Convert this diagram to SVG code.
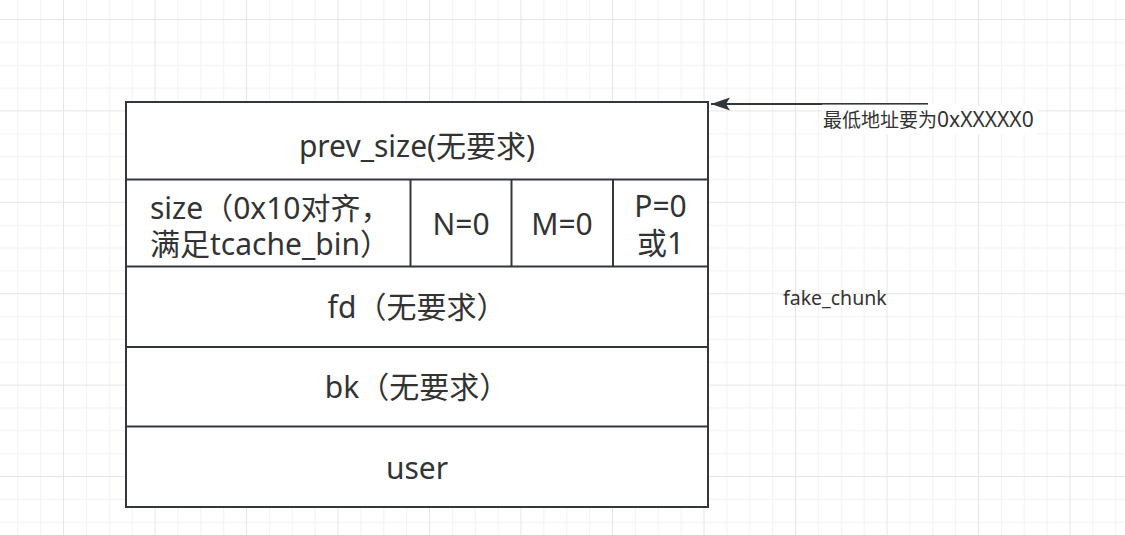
<svg xmlns="http://www.w3.org/2000/svg" width="1125" height="535" viewBox="0 0 1125 535">
<style>
.cell{fill:#ffffff;stroke:#33373b;stroke-width:2}
.div{stroke:#33373b;stroke-width:2;fill:none}
.t{font-family:"Noto Sans","Noto Sans CJK SC",sans-serif;font-size:30px;fill:#333333}
.c{text-anchor:middle}
.s{font-family:"Noto Sans","Noto Sans CJK SC",sans-serif;fill:#333333}
</style>
<defs>
<pattern id="grid" patternUnits="userSpaceOnUse" x="63" y="19" width="91.5" height="91.4">
<rect x="0" y="0" width="91.5" height="91.4" fill="#ffffff"/>
<rect x="22.875" y="0" width="1" height="91.4" fill="#f3f3f3"/>
<rect x="45.75" y="0" width="1" height="91.4" fill="#f3f3f3"/>
<rect x="68.625" y="0" width="1" height="91.4" fill="#f3f3f3"/>
<rect x="0" y="22.85" width="91.5" height="1" fill="#f3f3f3"/>
<rect x="0" y="45.7" width="91.5" height="1" fill="#f3f3f3"/>
<rect x="0" y="68.55" width="91.5" height="1" fill="#f3f3f3"/>
<rect x="0" y="0" width="1" height="91.4" fill="#e6e6e6"/>
<rect x="0" y="0" width="91.5" height="1" fill="#e6e6e6"/>
</pattern>
<marker id="arr" markerUnits="userSpaceOnUse" markerWidth="22" markerHeight="14" refX="19" refY="6.5" orient="auto">
<path d="M0,0 L19,6.5 L0,13 L4,6.5 Z" fill="#33373b"/>
</marker>
</defs>
<rect x="0" y="0" width="1125" height="535" fill="url(#grid)"/>

<g id="connectors">
<line x1="928" y1="104" x2="711" y2="104" stroke="#33373b" stroke-width="2" marker-end="url(#arr)"/>
</g>

<g id="addr-label">
<rect x="822" y="104.6" width="215" height="30" fill="#ffffff"/>
<text class="s" x="823" y="127"><tspan font-size="19">最低地址要为</tspan><tspan font-size="21">0xXXXXX0</tspan></text>
</g>

<g id="chunk">
<rect class="cell" x="126" y="102" width="582" height="405"/>
<line class="div" x1="126" y1="179.5" x2="708" y2="179.5"/>
<line class="div" x1="126" y1="266.5" x2="708" y2="266.5"/>
<line class="div" x1="126" y1="347" x2="708" y2="347"/>
<line class="div" x1="126" y1="426.5" x2="708" y2="426.5"/>
<line class="div" x1="410.5" y1="179.5" x2="410.5" y2="266.5"/>
<line class="div" x1="511.5" y1="179.5" x2="511.5" y2="266.5"/>
<line class="div" x1="613" y1="179.5" x2="613" y2="266.5"/>
</g>

<g id="prev_size">
<text class="t c" x="417" y="157">prev_size(无要求)</text>
</g>
<g id="size">
<text class="t"><tspan x="150" y="219">size（0x10对齐，</tspan><tspan x="150" y="255">满足tcache_bin）</tspan></text>
</g>
<g id="n-bit">
<text class="t c" x="461" y="235">N=0</text>
</g>
<g id="m-bit">
<text class="t c" x="562" y="235">M=0</text>
</g>
<g id="p-bit">
<text class="t c"><tspan x="660.5" y="217">P=0</tspan><tspan x="660.5" y="254">或1</tspan></text>
</g>
<g id="fd">
<text class="t c" x="417" y="318">fd（无要求）</text>
</g>
<g id="bk">
<text class="t c" x="417" y="398">bk（无要求）</text>
</g>
<g id="user">
<text class="t c" x="417" y="479">user</text>
</g>

<g id="fake_chunk-label">
<text class="s" x="783" y="305" font-size="19.5">fake_chunk</text>
</g>
</svg>
